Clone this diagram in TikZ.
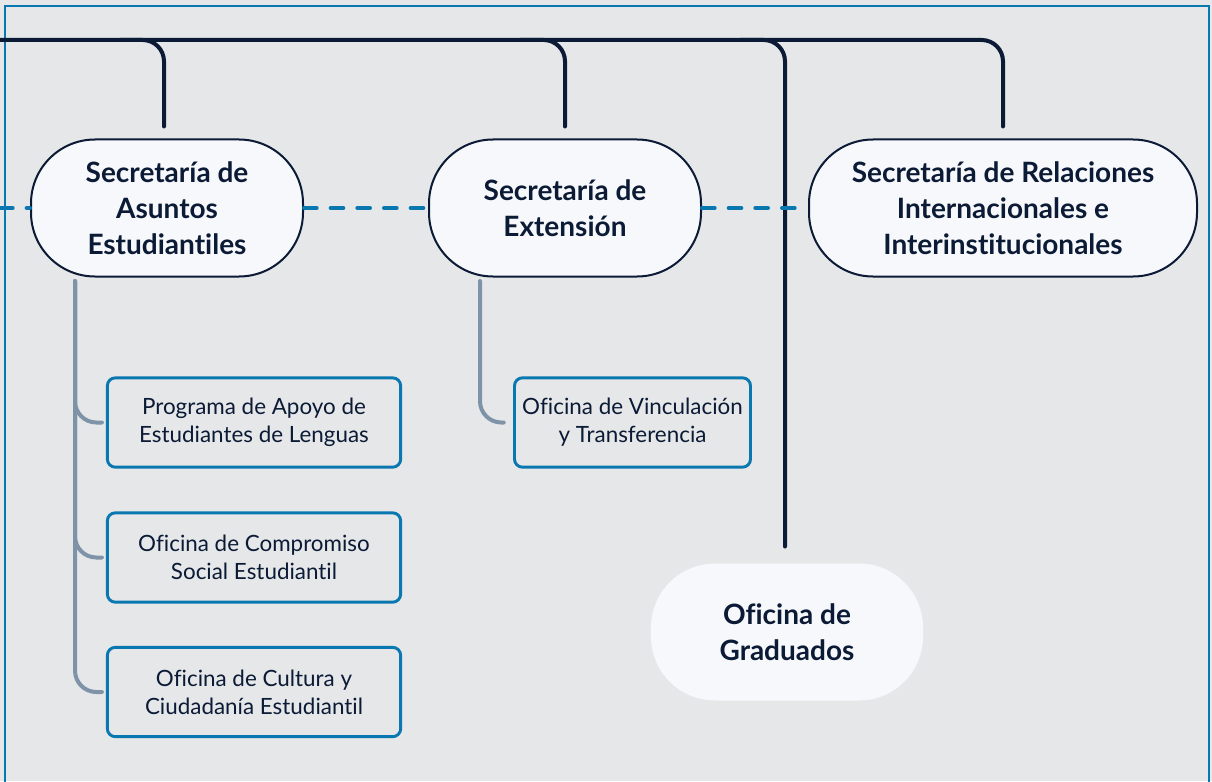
\documentclass[tikz,border=0pt]{standalone}
\usepackage{fontspec}
\setmainfont[Ligatures=NoCommon]{Lato}
\definecolor{bg}{HTML}{E6E7E9}
\definecolor{frame}{HTML}{0A78B0}
\definecolor{navy}{HTML}{0B1A35}
\definecolor{nodefill}{HTML}{F7F8FB}
\definecolor{subgray}{HTML}{7F93A8}
\definecolor{dashblue}{HTML}{0A78B0}
\begin{document}
\begin{tikzpicture}[x=0.75pt,y=-0.75pt,
  main/.style={draw=navy,line width=1.5pt,fill=nodefill,rounded corners=48pt,
    minimum width=204pt,minimum height=102.75pt,align=center,inner sep=0pt,
    font=\fontsize{21}{27}\selectfont\bfseries,text=navy},
  plain/.style={main,draw=none},
  subbox/.style={draw=frame,line width=2.2pt,rounded corners=6pt,
    minimum width=220pt,minimum height=67pt,align=center,inner sep=0pt,
    font=\fontsize{16.8}{21}\selectfont,text=navy},
  bus/.style={draw=navy,line width=3pt,line cap=round,rounded corners=16pt},
  sub/.style={draw=subgray,line width=3pt,line cap=round,rounded corners=16pt},
  dashln/.style={draw=dashblue,line width=3pt,line cap=round,dash pattern=on 9.5pt off 10.5pt}
]
\useasboundingbox (0,0) rectangle (1212,781);
\clip (0,0) rectangle (1212,781);
\fill[bg] (0,0) rectangle (1212,781);
\draw[frame,line width=1.6pt] (5,6) rectangle (1209,820);

% main nodes
\node[main] (n1) at (167,208) {Secretaría de\\Asuntos\\Estudiantiles};
\node[main] (n2) at (565,208) {Secretaría de\\Extensión};
\node[main,minimum width=291pt] (n3) at (1003,208) {Secretaría de Relaciones\\Internacionales e\\Interinstitucionales};
\node[plain] (n4) at (787,632) {Oficina de\\Graduados};

% sub boxes
\node[subbox] (bA) at (254,422.5) {Programa de Apoyo de\\Estudiantes de Lenguas};
\node[subbox] (bB) at (254,557.5) {Oficina de Compromiso\\Social Estudiantil};
\node[subbox] (bC) at (254,692) {Oficina de Cultura y\\Ciudadanía Estudiantil};
\node[subbox,minimum width=177pt] (bD) at (632.5,422.5) {Oficina de Vinculación\\y Transferencia};

% top bus
\coordinate (b0) at (0,40);
\coordinate (b1) at (120,40);
\coordinate (b2) at (520,40);
\coordinate (b3) at (740,40);
\draw[bus,shorten >=9pt] (b0) -| (n3.north);
\draw[bus,shorten >=9pt] (b1) -| ([xshift=-2.25pt]n1.north);
\draw[bus,shorten >=9pt] (b2) -| (n2.north);
\draw[bus,shorten >=12pt] (b3) -| ([xshift=-1.5pt]n4.north);

% dashed link
\coordinate (d0) at (0,208);
\draw[dashln] (d0) -- (n1.west);
\draw[dashln] (n1.east) -- (n2.west);
\draw[dashln] (n2.east) -- (n3.west);

% sub connectors
\coordinate (s1) at (75,281);
\coordinate (s2) at (480,281);
\draw[sub,shorten >=3pt] (s1) |- (bA.west);
\draw[sub,shorten >=3pt] (s1) |- (bB.west);
\draw[sub,shorten >=3pt] (s1) |- (bC.west);
\draw[sub,shorten >=7pt] (s2) |- (bD.west);
\end{tikzpicture}
\end{document}
